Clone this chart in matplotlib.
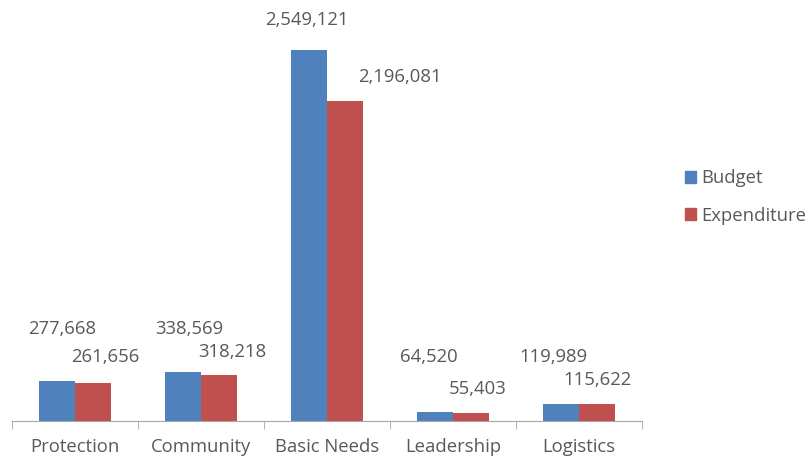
import numpy as np
import matplotlib.pyplot as plt
from matplotlib.patches import Patch

categories = ["Protection", "Community", "Basic Needs", "Leadership", "Logistics"]
budget = [277668, 338569, 2549121, 64520, 119989]
expenditure = [261656, 318218, 2196081, 55403, 115622]

# hand placed label offsets (pixels from bar top centre), as in the original
budget_off = [(5, 52), (6, 43), (-2, 30), (-6, 55), (-8, 47)]
exp_off = [(12, 26), (13, 23), (55, 24), (7, 24), (0, 24)]

plt.rcParams["font.family"] = ["Open Sans", "DejaVu Sans"]

W, H = 808, 459
fig = plt.figure(figsize=(W / 100, H / 100), dpi=100)
ax = fig.add_axes([12 / W, (H - 421) / H, 630 / W, 421 / H])

blue = "#4F81BD"
red = "#C0504D"
grey = "#595959"
fs = 13.3

x = np.arange(len(categories))
bw = 0.286
b1 = ax.bar(x - bw / 2, budget, bw, color=blue)
b2 = ax.bar(x + bw / 2, expenditure, bw, color=red)

for bars, vals, offs in [(b1, budget, budget_off), (b2, expenditure, exp_off)]:
    for r, v, (dx, dy) in zip(bars, vals, offs):
        ax.annotate(f"{v:,}", (r.get_x() + r.get_width() / 2, v),
                    xytext=(dx * 0.72, dy * 0.72), textcoords="offset points",
                    ha="center", va="center", fontsize=fs, color=grey)

ax.set_xlim(-0.5, len(categories) - 0.5)
ax.set_ylim(0, 2549121 * 421 / 371)

for s in ["top", "right", "left"]:
    ax.spines[s].set_visible(False)
ax.spines["bottom"].set_color("#a6a6a6")
ax.set_yticks([])
ax.set_xticks(np.arange(len(categories) + 1) - 0.5, minor=True)
ax.set_xticks(x)
ax.set_xticklabels(categories, fontsize=fs, color=grey)
ax.tick_params(axis="x", which="major", length=0, pad=12)
ax.tick_params(axis="x", which="minor", length=6, color="#a6a6a6")

handles = [Patch(color=blue, label="Budget"), Patch(color=red, label="Expenditure")]
fig.legend(handles=handles, loc="center left", bbox_to_anchor=(668 / W, 1 - 197 / H),
           frameon=False, fontsize=fs, labelcolor=grey, handlelength=0.6,
           handleheight=0.6, handletextpad=0.3, labelspacing=1.05)

fig.savefig("out.png", dpi=100)
